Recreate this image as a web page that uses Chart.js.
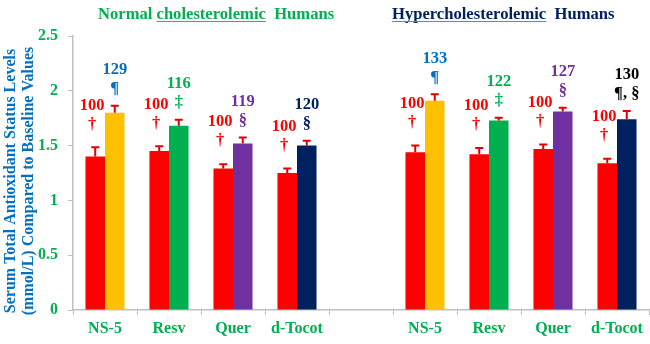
<!DOCTYPE html>
<html>
<head>
<meta charset="utf-8">
<script src="https://cdn.jsdelivr.net/npm/chart.js@4"></script>
<style>
  html, body { margin: 0; padding: 0; background: #fff; }
  #wrap { width: 650px; height: 344px; position: relative; }
</style>
</head>
<body>
<div id="wrap"><canvas id="chartTAS"></canvas></div>
<script>
// Datos
const categories = ['NS-5', 'Resv', 'Quer', 'd-Tocot', '', 'NS-5', 'Resv', 'Quer', 'd-Tocot'];
const baselineValues = [1.40, 1.45, 1.29, 1.25, null, 1.44, 1.42, 1.47, 1.34];
const treatedValues = [1.80, 1.68, 1.52, 1.50, null, 1.91, 1.73, 1.81, 1.74];
const baselineErrors = [0.085, 0.043, 0.04, 0.04, null, 0.06, 0.058, 0.04, 0.04];
const treatedErrors = [0.064, 0.055, 0.055, 0.045, null, 0.058, 0.024, 0.036, 0.076];
const baselineLabels = ['100', '100', '100', '100', null, '100', '100', '100', '100'];
const baselineSymbols = ['†', '†', '†', '†', null, '†', '†', '†', '†'];
const treatedLabels = ['129', '116', '119', '120', null, '133', '122', '127', '130'];
const treatedSymbols = ['¶', '‡', '§', '§', null, '¶', '‡', '§', '¶, §'];
const yTickLabels = ['0', '0.5', '1', '1.5', '2', '2.5'];
const yAxisTitle = ['Serum Total Antioxidant Status Levels', '(mmol/L) Compared to Baseline Values'];

// Colores
const baselineColor = '#FF0000';
const treatedColors = ['#FFC000', '#00B050', '#7030A0', '#002060', null, '#FFC000', '#00B050', '#7030A0', '#002060'];
const labelColors = ['#0070C0', '#00B050', '#7030A0', '#002060', null, '#0070C0', '#00B050', '#7030A0', '#000000'];
const green = '#00B050';
const navy = '#002060';
const axisGray = '#BFBFBF';
const serif = '"Liberation Serif", "Times New Roman", serif';

function drawText(ctx, text, x, y, size, color, align) {
  ctx.save();
  ctx.font = 'bold ' + size + 'px ' + serif;
  ctx.fillStyle = color;
  ctx.textAlign = align || 'center';
  ctx.textBaseline = 'middle';
  ctx.fillText(text, x, y);
  const w = ctx.measureText(text).width;
  ctx.restore();
  return w;
}

// Barras de error + etiquetas
const annotations = {
  id: 'annotations',
  afterDatasetsDraw(chart) {
    const ctx = chart.ctx;
    const y = chart.scales.y;
    const sets = [
      { meta: chart.getDatasetMeta(0), vals: baselineValues, errs: baselineErrors, txt: baselineLabels, sym: baselineSymbols, base: true },
      { meta: chart.getDatasetMeta(1), vals: treatedValues, errs: treatedErrors, txt: treatedLabels, sym: treatedSymbols, base: false }
    ];
    sets.forEach(s => {
      s.meta.data.forEach((bar, i) => {
        if (s.vals[i] == null) return;
        const top = y.getPixelForValue(s.vals[i]);
        const cap = y.getPixelForValue(s.vals[i] + s.errs[i]);
        ctx.save();
        ctx.strokeStyle = '#E00000';
        ctx.lineWidth = 2;
        ctx.beginPath();
        ctx.moveTo(bar.x, top);
        ctx.lineTo(bar.x, cap);
        ctx.moveTo(bar.x - 4, cap);
        ctx.lineTo(bar.x + 4, cap);
        ctx.stroke();
        ctx.restore();
        if (s.base) {
          drawText(ctx, s.txt[i], bar.x - 3, cap - 42, 16.5, baselineColor);
          drawText(ctx, s.sym[i], bar.x - 3, cap - 23, 16.5, baselineColor);
        } else {
          drawText(ctx, s.txt[i], bar.x, cap - 36, 16.5, labelColors[i]);
          drawText(ctx, s.sym[i], bar.x, cap - 17, 16.5, labelColors[i]);
        }
      });
    });
  },
  afterDraw(chart) {
    const ctx = chart.ctx;
    // títulos de grupo
    let x = 98;
    x += drawText(ctx, 'Normal ', x, 15, 16.6, green, 'left');
    const w1 = drawText(ctx, 'cholesterolemic', x, 15, 16.6, green, 'left');
    ctx.fillStyle = '#FF5050';
    ctx.fillRect(x, 21, w1, 1);
    x += w1;
    drawText(ctx, '  Humans', x, 15, 16.6, green, 'left');

    x = 392;
    const w2 = drawText(ctx, 'Hypercholesterolemic', x, 15, 16.6, navy, 'left');
    ctx.fillStyle = '#FF5050';
    ctx.fillRect(x, 21, w2, 1);
    drawText(ctx, '  Humans', x + w2, 15, 16.6, navy, 'left');

    // título eje Y (dos líneas, rotado)
    ctx.save();
    ctx.translate(0, 181);
    ctx.rotate(-Math.PI / 2);
    ctx.font = 'bold 16px ' + serif;
    ctx.fillStyle = '#0070C0';
    ctx.textAlign = 'center';
    ctx.textBaseline = 'middle';
    ctx.fillText(yAxisTitle[0], 0, 11);
    ctx.fillText(yAxisTitle[1], 0, 29);
    ctx.restore();
  }
};

const ctx = document.getElementById('chartTAS').getContext('2d');
new Chart(ctx, {
  type: 'bar',
  data: {
    labels: categories,
    datasets: [
      {
        label: 'Baseline',
        data: baselineValues,
        backgroundColor: baselineColor,
        categoryPercentage: 0.61,
        barPercentage: 1.0
      },
      {
        label: 'Treated',
        data: treatedValues,
        backgroundColor: treatedColors,
        categoryPercentage: 0.61,
        barPercentage: 1.0
      }
    ]
  },
  options: {
    responsive: true,
    maintainAspectRatio: false,
    animation: false,
    layout: { padding: { top: 36, right: 1, left: 0, bottom: 0 } },
    plugins: {
      legend: { display: false },
      tooltip: { enabled: false }
    },
    scales: {
      x: {
        afterFit: s => { s.height = 34; },
        grid: { drawOnChartArea: false, color: axisGray, tickLength: 5, offset: true },
        border: { color: axisGray, width: 1.5 },
        ticks: {
          color: green,
          padding: 4,
          maxRotation: 0,
          autoSkip: false,
          font: { family: serif, size: 16, weight: 'bold' }
        }
      },
      y: {
        min: 0,
        max: 2.5,
        afterFit: s => { s.width = 73; },
        grid: { drawOnChartArea: false, color: axisGray, tickLength: 5 },
        border: { color: axisGray, width: 1.5 },
        ticks: {
          stepSize: 0.5,
          color: green,
          padding: 10,
          font: { family: serif, size: 16, weight: 'bold' },
          callback: (v, i) => yTickLabels[i]
        }
      }
    }
  },
  plugins: [annotations]
});
</script>
</body>
</html>
